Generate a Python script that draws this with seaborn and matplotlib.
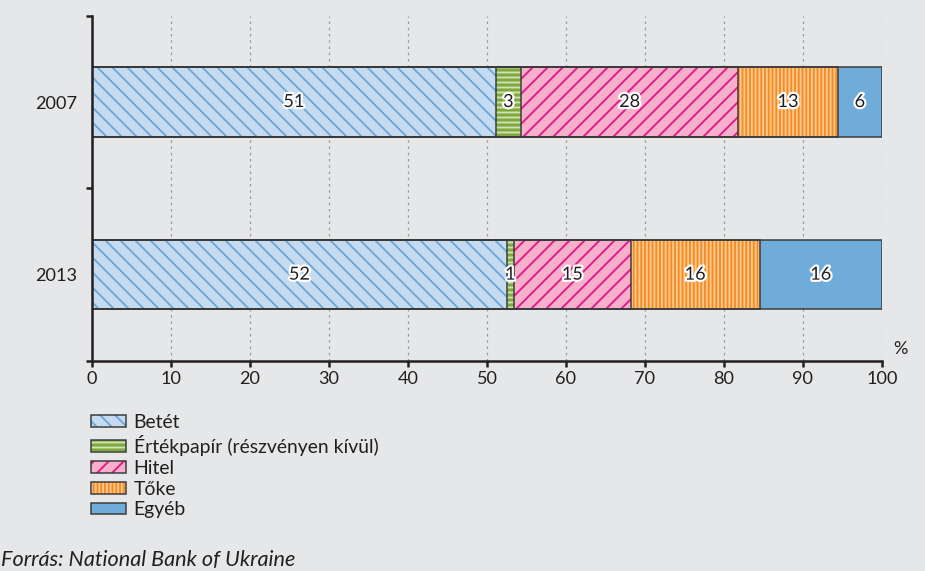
import matplotlib
matplotlib.use('Agg')
import matplotlib.pyplot as plt
import matplotlib.patches as mpatches
import matplotlib.patheffects as pe
from matplotlib.colors import to_rgba
import numpy as np
import pandas as pd
import seaborn as sns

# --- data ---
years = ['2007', '2013']
categories = ['Betét', 'Értékpapír (részvényen kívül)', 'Hitel', 'Tőke', 'Egyéb']
shares_2007 = [51.1, 3.2, 27.5, 12.6, 5.6]
shares_2013 = [52.5, 0.9, 14.8, 16.3, 15.5]
labels_2007 = [51, 3, 28, 13, 6]
labels_2013 = [52, 1, 15, 16, 16]
x_ticks = list(range(0, 101, 10))
source_text = 'Forrás: National Bank of Ukraine'

# --- styling ---
BG = '#e6e7e8'
DARK = '#231f20'
EDGE = '#3a3a3a'
face_colors = ['#c5dcf0', '#7fa93f', '#f7afca', '#f68c20', '#70acd9']
hatch_colors = ['#6fa8d8', '#d2e3b3', '#e0198a', '#fdc891', '#70acd9']
hatches = ['\\\\', '---', '//', '||||', '']
FS = 14.5
DPI = 90


def set_hatch_color(patch, color):
    if hasattr(patch, 'set_hatchcolor'):
        patch.set_hatchcolor(color)
    else:
        patch._hatch_color = to_rgba(color)


sns.set_theme(style='ticks')
plt.rcParams['font.family'] = ['Lato', 'DejaVu Sans']
plt.rcParams['hatch.linewidth'] = 1.5

df = pd.DataFrame({
    'year': np.repeat(years, len(categories)),
    'category': categories * len(years),
    'share': shares_2007 + shares_2013,
    'label': labels_2007 + labels_2013,
})
df['right'] = df.groupby('year')['share'].cumsum()
df['left'] = df['right'] - df['share']

fig = plt.figure(figsize=(925 / DPI, 571 / DPI), dpi=DPI, facecolor=BG)
ax = fig.add_axes([0.0995, 0.3678, 0.854, 0.6047])
ax.set_facecolor(BG)

# fill pass: cumulative bars, widest first so narrower ones sit on top
for i in reversed(range(len(categories))):
    sub = df[df['category'] == categories[i]]
    n = len(ax.patches)
    sns.barplot(data=sub, x='right', y='year', order=years, orient='h',
                color=face_colors[i], saturation=1, width=0.4,
                errorbar=None, ax=ax)
    for p in ax.patches[n:]:
        p.set_hatch(hatches[i])
        p.set_edgecolor(hatch_colors[i])
        p.set_linewidth(0)

# outline pass
for i in reversed(range(len(categories))):
    sub = df[df['category'] == categories[i]]
    n = len(ax.patches)
    sns.barplot(data=sub, x='right', y='year', order=years, orient='h',
                color=face_colors[i], saturation=1, width=0.4,
                errorbar=None, ax=ax)
    for p in ax.patches[n:]:
        p.set_facecolor('none')
        p.set_edgecolor(EDGE)
        p.set_linewidth(1.2)

# segment labels
for row in df.itertuples():
    ax.text((row.left + row.right) / 2, years.index(row.year), str(row.label),
            ha='center', va='center', fontsize=FS, color=DARK,
            path_effects=[pe.withStroke(linewidth=3.5, foreground='white')])

ax.set_xlim(0, 100)
ax.set_ylim(1.5, -0.5)
ax.set_xticks(x_ticks)
ax.set_yticks([-0.5, 0.5, 1.5])
ax.set_yticklabels([])
ax.set_yticks([0, 1], minor=True)
ax.set_yticklabels(years, minor=True)
ax.set_xlabel('')
ax.set_ylabel('')

ax.tick_params(axis='y', which='minor', length=0, pad=12, labelsize=FS, labelcolor=DARK)
ax.tick_params(axis='y', which='major', length=5, width=2, direction='out', color=DARK)
ax.tick_params(axis='x', length=5, width=2, direction='out', color=DARK,
               labelsize=FS, labelcolor=DARK, pad=3)

for side in ['top', 'right']:
    ax.spines[side].set_visible(False)
for side in ['left', 'bottom']:
    ax.spines[side].set_color(DARK)
    ax.spines[side].set_linewidth(2)

ax.grid(axis='x', linestyle=(0, (2, 3)), color='#9a9a9a', linewidth=1)
ax.grid(axis='y', visible=False)
ax.set_axisbelow(True)

ax.text(1.023, 0.012, '%', transform=ax.transAxes, ha='center', va='bottom',
        fontsize=FS, color=DARK)

# legend
handles = []
for fc, hc, h, name in zip(face_colors, hatch_colors, hatches, categories):
    p = mpatches.Patch(facecolor=fc, edgecolor=EDGE, hatch=h, linewidth=1.2, label=name)
    set_hatch_color(p, hc)
    handles.append(p)
fig.legend(handles=handles, loc='upper left', bbox_to_anchor=(91 / 925, 1 - 414 / 571),
           frameon=False, fontsize=15.5, handlelength=1.8, handleheight=0.55,
           handletextpad=0.4, labelspacing=0.2, borderpad=0, borderaxespad=0,
           labelcolor=DARK)

fig.text(1 / 925, 1 - 560 / 571, source_text, style='italic', fontsize=17.3,
         color=DARK, ha='left', va='center')

fig.savefig('out.png', dpi=DPI, facecolor=BG)
